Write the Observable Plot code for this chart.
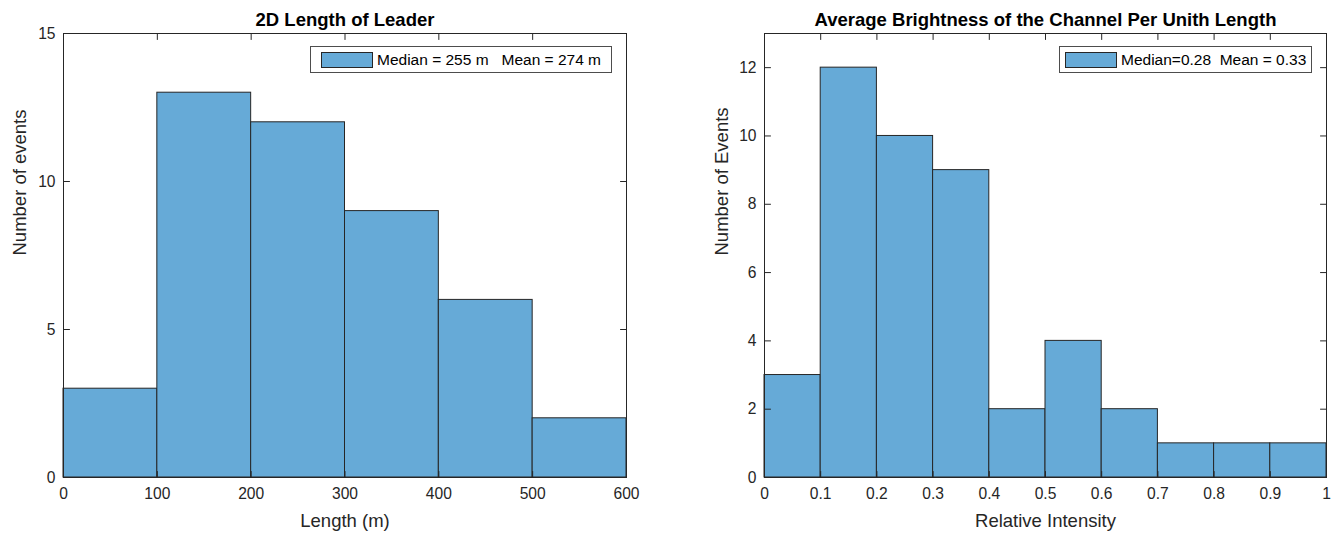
<!DOCTYPE html>
<html>
<head>
<meta charset="utf-8">
<script src="https://cdn.jsdelivr.net/npm/d3@7"></script>
<script src="https://cdn.jsdelivr.net/npm/@observablehq/plot@0.6"></script>
<style>
  html, body { margin: 0; padding: 0; background: #fff; overflow: hidden; }
  #root { position: relative; width: 1335px; height: 533px; font-family: "Liberation Sans", Arial, Helvetica, sans-serif; color: #262626; }
  .panel { position: absolute; top: 0; }
  .legend { position: absolute; box-sizing: border-box; border: 1px solid #4d4d4d; background: #fff; height: 27px; display: flex; align-items: center; font-size: 15.5px; white-space: pre; color: #000; }
  .legend .patch { width: 52px; height: 16px; box-sizing: border-box; border: 1px solid #262626; background: #66aad7; margin: 0 4px 0 10px; flex: none; }
</style>
</head>
<body>
<div id="root"></div>
<script>
// ---- Data ----
const leftTitle = "2D Length of Leader";
const leftXLabel = "Length (m)";
const leftYLabel = "Number of events";
const leftEdges = [0, 100, 200, 300, 400, 500, 600];
const leftCounts = [3, 13, 12, 9, 6, 2];
const leftXTicks = [0, 100, 200, 300, 400, 500, 600];
const leftXTickLabels = ["0", "100", "200", "300", "400", "500", "600"];
const leftYTicks = [0, 5, 10, 15];
const leftYTickLabels = ["0", "5", "10", "15"];
const leftYDomain = [0, 15];
const leftLegend = "Median = 255 m   Mean = 274 m";

const rightTitle = "Average Brightness of the Channel Per Unith Length";
const rightXLabel = "Relative Intensity";
const rightYLabel = "Number of Events";
const rightEdges = [0, 0.1, 0.2, 0.3, 0.4, 0.5, 0.6, 0.7, 0.8, 0.9, 1];
const rightCounts = [3, 12, 10, 9, 2, 4, 2, 1, 1, 1];
const rightXTicks = [0, 0.1, 0.2, 0.3, 0.4, 0.5, 0.6, 0.7, 0.8, 0.9, 1];
const rightXTickLabels = ["0", "0.1", "0.2", "0.3", "0.4", "0.5", "0.6", "0.7", "0.8", "0.9", "1"];
const rightYTicks = [0, 2, 4, 6, 8, 10, 12];
const rightYTickLabels = ["0", "2", "4", "6", "8", "10", "12"];
const rightYDomain = [0, 13];
const rightLegend = "Median=0.28  Mean = 0.33";

// ---- Styling ----
const FONT = '"Liberation Sans", Arial, Helvetica, sans-serif';
const INK = "#262626";
const FILL = "#66aad7";
const TICK = 6;

const tickUp = {draw(ctx, l) { ctx.moveTo(0, 0); ctx.lineTo(0, -l); }};
const tickDown = {draw(ctx, l) { ctx.moveTo(0, 0); ctx.lineTo(0, l); }};
const tickRight = {draw(ctx, l) { ctx.moveTo(0, 0); ctx.lineTo(l, 0); }};
const tickLeft = {draw(ctx, l) { ctx.moveTo(0, 0); ctx.lineTo(-l, 0); }};

function panel({edges, counts, xTicks, xTickLabels, yTicks, yTickLabels, yDomain, title, xLabel, yLabel, width, marginLeft, marginRight, yLabelDx}) {
  const bins = counts.map((c, i) => ({x1: edges[i], x2: edges[i + 1], y: c}));
  const xDomain = [edges[0], edges[edges.length - 1]];
  return Plot.plot({
    width, height: 533,
    marginLeft, marginRight, marginTop: 33, marginBottom: 56,
    style: {fontFamily: FONT, color: INK, background: "transparent", overflow: "visible"},
    x: {domain: xDomain},
    y: {domain: yDomain},
    marks: [
      Plot.rectY(bins, {x1: "x1", x2: "x2", y: "y", fill: FILL, stroke: INK, strokeWidth: 1, inset: 0}),
      Plot.frame({stroke: INK, strokeWidth: 1}),
      Plot.axisX({ticks: xTicks, tickSize: 0, tickPadding: 10, tickFormat: (d, i) => xTickLabels[i], fontSize: 15.6, fill: INK, label: null}),
      Plot.axisY({ticks: yTicks, tickSize: 0, tickPadding: 8, tickFormat: (d, i) => yTickLabels[i], fontSize: 15.6, fill: INK, label: null}),
      Plot.vector(xTicks, {x: d => d, frameAnchor: "bottom", length: TICK, anchor: "start", shape: tickUp, stroke: INK, strokeWidth: 1}),
      Plot.vector(xTicks, {x: d => d, frameAnchor: "top", length: TICK, anchor: "start", shape: tickDown, stroke: INK, strokeWidth: 1}),
      Plot.vector(yTicks, {y: d => d, frameAnchor: "left", length: TICK, anchor: "start", shape: tickRight, stroke: INK, strokeWidth: 1}),
      Plot.vector(yTicks, {y: d => d, frameAnchor: "right", length: TICK, anchor: "start", shape: tickLeft, stroke: INK, strokeWidth: 1}),
      Plot.text([title], {text: d => d, frameAnchor: "top", dy: -8, lineAnchor: "bottom", fontWeight: "bold", fontSize: 18.5, fill: "#000"}),
      Plot.text([xLabel], {text: d => d, frameAnchor: "bottom", dy: 36, lineAnchor: "top", fontSize: 18.5, fill: INK}),
      Plot.text([yLabel], {text: d => d, frameAnchor: "left", dx: yLabelDx, rotate: -90, lineAnchor: "middle", fontSize: 18.5, fill: INK})
    ]
  });
}

const root = document.getElementById("root");

const left = panel({
  edges: leftEdges, counts: leftCounts, xTicks: leftXTicks, xTickLabels: leftXTickLabels,
  yTicks: leftYTicks, yTickLabels: leftYTickLabels, yDomain: leftYDomain,
  title: leftTitle, xLabel: leftXLabel, yLabel: leftYLabel,
  width: 680, marginLeft: 63, marginRight: 54, yLabelDx: -43
});
left.classList.add("panel");
left.style.left = "0px";
root.appendChild(left);

const right = panel({
  edges: rightEdges, counts: rightCounts, xTicks: rightXTicks, xTickLabels: rightXTickLabels,
  yTicks: rightYTicks, yTickLabels: rightYTickLabels, yDomain: rightYDomain,
  title: rightTitle, xLabel: rightXLabel, yLabel: rightYLabel,
  width: 655, marginLeft: 84, marginRight: 9, yLabelDx: -42
});
right.classList.add("panel");
right.style.left = "680px";
root.appendChild(right);

function legend(text, left, width, patchGap) {
  const d = document.createElement("div");
  d.className = "legend";
  d.style.left = left + "px";
  d.style.top = "46px";
  d.style.width = width + "px";
  const p = document.createElement("div");
  p.className = "patch";
  p.style.marginLeft = patchGap + "px";
  const t = document.createElement("span");
  t.textContent = text;
  d.appendChild(p);
  d.appendChild(t);
  root.appendChild(d);
}
legend(leftLegend, 310, 302, 10);
legend(rightLegend, 1059, 253, 5);
</script>
</body>
</html>
